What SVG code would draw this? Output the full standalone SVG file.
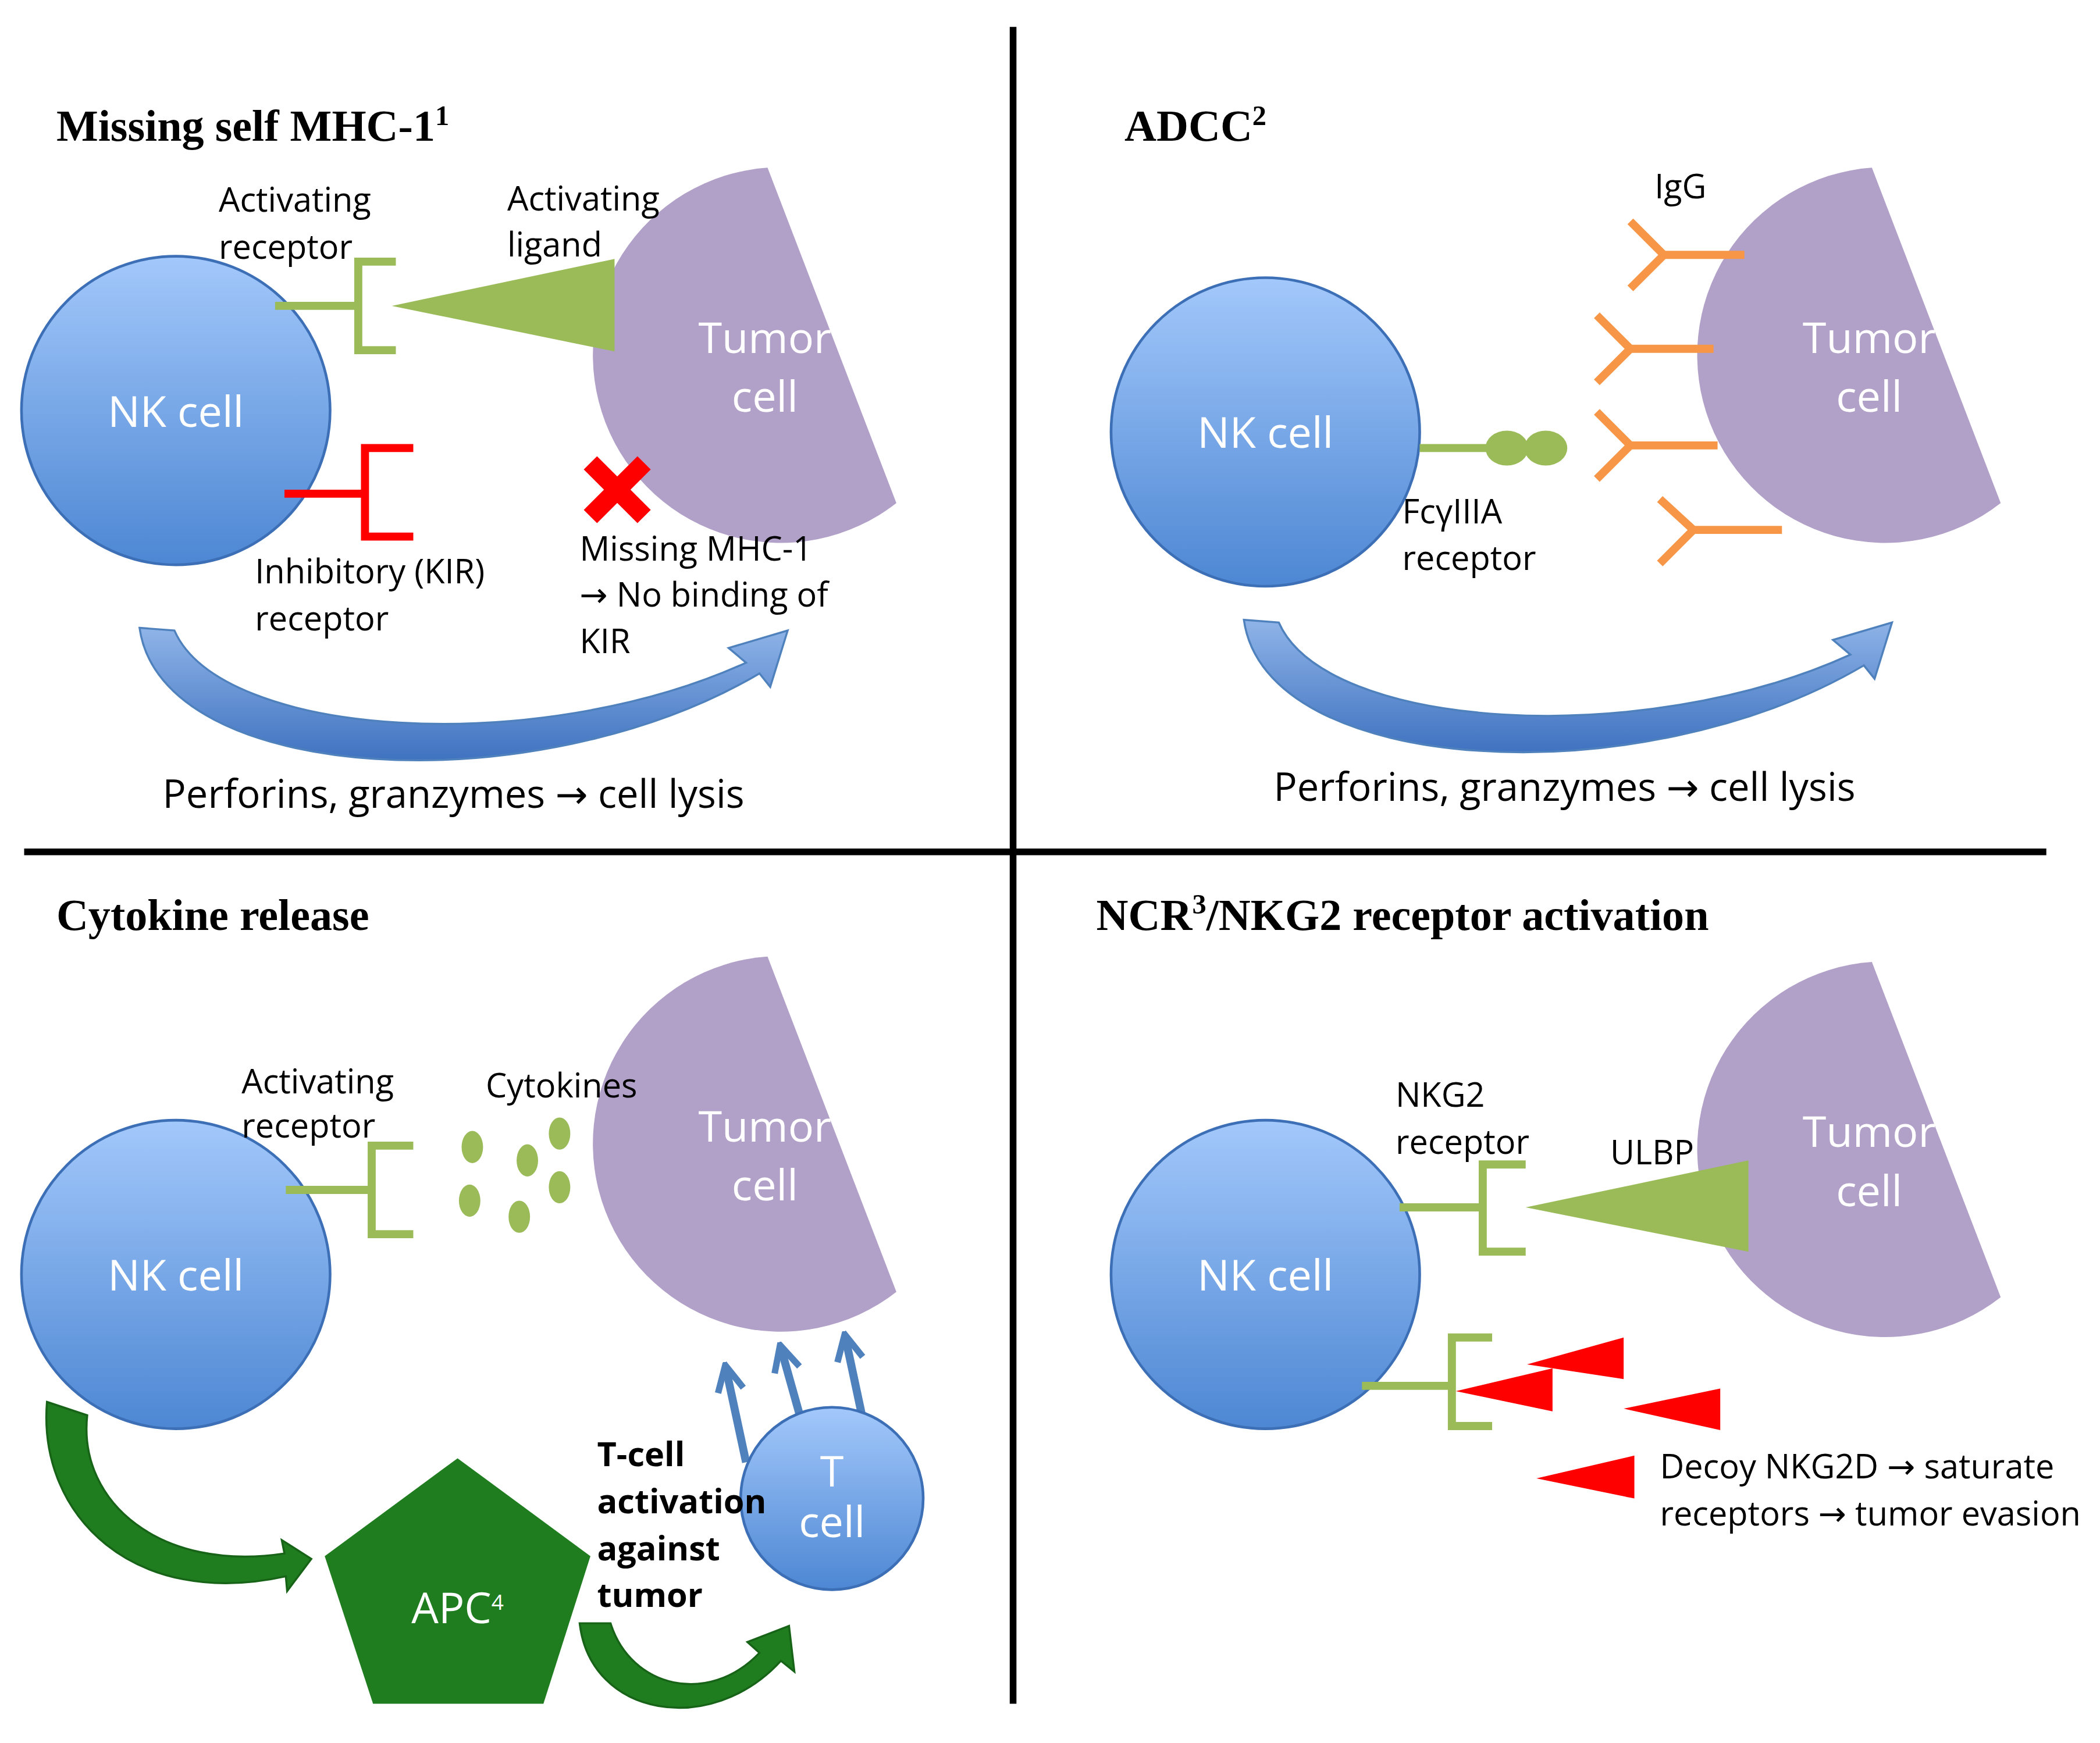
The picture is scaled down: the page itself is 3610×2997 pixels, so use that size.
<svg xmlns="http://www.w3.org/2000/svg" width="3610" height="2997" viewBox="0 0 3610 2997">
<defs>
<linearGradient id="nk" x1="0" y1="0" x2="0" y2="1"><stop offset="0" stop-color="#a3c8fb"/><stop offset="1" stop-color="#4d87d3"/></linearGradient>
<linearGradient id="arr" x1="0" y1="0" x2="0" y2="1"><stop offset="0" stop-color="#8fb4e8"/><stop offset="1" stop-color="#3f72c0"/></linearGradient>
<marker id="ah" viewBox="0 0 10 10" refX="8" refY="5" markerWidth="4" markerHeight="4" orient="auto"><path d="M1,1 L9,5 L1,9" fill="none" stroke="#4f81bd" stroke-width="2"/></marker>
<style>
.nk{fill:url(#nk);stroke:#3c6fb5;stroke-width:2}
.tu{fill:#b1a0c7}
.ct{font-family:"Open Sans","DejaVu Sans",sans-serif;font-size:32px;fill:#fff;text-anchor:middle}
.lb{font-family:"Open Sans","DejaVu Sans",sans-serif;font-size:25px;fill:#000}
.ti{font-family:"Liberation Serif",serif;font-size:33px;font-weight:bold;fill:#000}
.gr{fill:none;stroke:#9bbb59;stroke-width:6}
.rd{fill:none;stroke:#ff0000;stroke-width:6}
.og{fill:none;stroke:#f79646;stroke-width:6}
.ba{fill:url(#arr);stroke:#4f81bd;stroke-width:1.5}
.ga{fill:#1f7d1f;stroke:#176317;stroke-width:1.5}
.bl{stroke:#4f81bd;stroke-width:6;fill:none;marker-end:url(#ah)}
.pf{font-family:"Open Sans","DejaVu Sans",sans-serif;font-size:29px;fill:#000;text-anchor:middle}
</style>
</defs>
<g transform="scale(2.3067)">
<g id="dividers"><line x1="755" y1="20" x2="755" y2="1270" stroke="#000" stroke-width="5"/><line x1="18" y1="635" x2="1525" y2="635" stroke="#000" stroke-width="5"/></g>

<g id="q1">
<text class="ti" x="42" y="105">Missing self MHC-1<tspan font-size="21" dy="-12">1</tspan></text>
<g id="q1-tumor"><path class="tu" d="M572,125 L668,375 A140,140 0 1 1 572,125 Z"/><text class="ct" x="570" y="263">Tumor</text><text class="ct" x="570" y="307">cell</text></g>
<g id="q1-nk"><circle class="nk" cx="131" cy="306" r="115"/><text class="ct" x="131" y="318">NK cell</text></g>
<g id="q1-actrec"><path class="gr" d="M205,228 H267 M295,195 H267 V261 H295"/></g>
<polygon id="q1-ligand" points="292,228 458,193 458,262" fill="#9bbb59"/>
<g id="q1-kir"><path class="rd" d="M212,368 H272 M308,334 H272 V400 H308"/></g>
<g id="q1-x"><path d="M440,345 L480,385 M480,345 L440,385" stroke="#ff0000" stroke-width="14"/></g>
<text class="lb" x="163" y="158">Activating</text><text class="lb" x="163" y="193">receptor</text>
<text class="lb" x="378" y="157">Activating</text><text class="lb" x="378" y="191">ligand</text>
<text class="lb" x="190" y="435">Inhibitory (KIR)</text><text class="lb" x="190" y="470">receptor</text>
<text class="lb" x="432" y="418">Missing MHC-1</text><text class="lb" x="432" y="452">→ No binding of</text><text class="lb" x="432" y="487">KIR</text>
<path id="q1-arrow" class="ba" d="M104,468 L130,470 C165,550 400,565 556,494 L543,483 L587,470 L574,512 L566,502 C400,600 120,585 104,468 Z"/>
<text class="pf" x="338" y="602">Perforins, granzymes → cell lysis</text>
</g>

<g id="q2">
<text class="ti" x="838" y="105">ADCC<tspan font-size="21" dy="-12">2</tspan></text>
<g id="q2-tumor"><path class="tu" d="M1395,125 L1491,375 A140,140 0 1 1 1395,125 Z"/><text class="ct" x="1393" y="263">Tumor</text><text class="ct" x="1393" y="307">cell</text></g>
<g id="q2-nk"><circle class="nk" cx="943" cy="322" r="115"/><text class="ct" x="943" y="334">NK cell</text></g>
<g id="q2-fc"><line x1="1058" y1="334" x2="1120" y2="334" stroke="#9bbb59" stroke-width="6"/><ellipse cx="1123" cy="334" rx="16" ry="13" fill="#9bbb59"/><ellipse cx="1152" cy="334" rx="16" ry="13" fill="#9bbb59"/></g>
<text class="lb" x="1045" y="390">FcγIIIA</text><text class="lb" x="1045" y="425">receptor</text>
<g id="q2-igg"><path class="og" d="M1300,190 H1240 L1215,165 M1240,190 L1215,215 M1277,260 H1215 L1190,235 M1215,260 L1190,285 M1280,332 H1215 L1190,307 M1215,332 L1190,357 M1328,395 H1262 L1237,372 M1262,395 L1237,420"/></g>
<text class="lb" x="1233" y="148">IgG</text>
<path id="q2-arrow" class="ba" d="M927,462 L953,464 C988,544 1223,559 1379,488 L1366,477 L1410,464 L1397,506 L1389,496 C1223,594 943,579 927,462 Z"/>
<text class="pf" x="1166" y="597">Perforins, granzymes → cell lysis</text>
</g>

<g id="q3">
<text class="ti" x="42" y="693">Cytokine release</text>
<g id="q3-tumor"><path class="tu" d="M572,713 L668,963 A140,140 0 1 1 572,713 Z"/><text class="ct" x="570" y="851">Tumor</text><text class="ct" x="570" y="895">cell</text></g>
<g id="q3-nk"><circle class="nk" cx="131" cy="950" r="115"/><text class="ct" x="131" y="962">NK cell</text></g>
<g id="q3-rec"><path class="gr" d="M213,887 H277 M308,854 H277 V920 H308"/></g>
<text class="lb" x="180" y="815">Activating</text><text class="lb" x="180" y="848">receptor</text>
<g id="q3-cyto" fill="#9bbb59"><ellipse cx="352" cy="855" rx="8" ry="12"/><ellipse cx="393" cy="865" rx="8" ry="12"/><ellipse cx="417" cy="845" rx="8" ry="12"/><ellipse cx="350" cy="895" rx="8" ry="12"/><ellipse cx="387" cy="907" rx="8" ry="12"/><ellipse cx="417" cy="885" rx="8" ry="12"/></g>
<text class="lb" x="362" y="818">Cytokines</text>
<g id="q3-tarrows"><line class="bl" x1="556" y1="1090" x2="541" y2="1020"/><line class="bl" x1="598" y1="1062" x2="582" y2="1005"/><line class="bl" x1="643" y1="1058" x2="630" y2="997"/></g>
<g id="q3-tcell"><circle class="nk" cx="620" cy="1117" r="68"/><text class="ct" x="620" y="1108" font-size="28">T</text><text class="ct" x="620" y="1146" font-size="28">cell</text></g>
<g id="q3-apc"><polygon points="341,1087 440,1160 405,1270 278,1270 242,1160" fill="#1f7d1f"/><text class="ct" x="341" y="1210" font-size="26">APC<tspan font-size="16" dy="-10">4</tspan></text></g>
<path id="q3-arrow1" class="ga" d="M35,1045 L65,1055 C58,1120 120,1172 212,1158 L210,1148 L232,1162 L214,1186 L213,1175 C100,1200 28,1130 35,1045 Z"/>
<path id="q3-arrow2" class="ga" d="M432,1210 L455,1210 C470,1258 528,1272 566,1232 L557,1224 L588,1212 L592,1246 L582,1238 C530,1295 440,1280 432,1210 Z"/>
<text class="lb" x="445" y="1093" font-weight="bold" font-size="22">T-cell</text><text class="lb" x="445" y="1128" font-weight="bold" font-size="22">activation</text><text class="lb" x="445" y="1163" font-weight="bold" font-size="22">against</text><text class="lb" x="445" y="1198" font-weight="bold" font-size="22">tumor</text>
</g>

<g id="q4">
<text class="ti" x="817" y="693">NCR<tspan font-size="21" dy="-12">3</tspan><tspan dy="12">/NKG2 receptor activation</tspan></text>
<g id="q4-tumor"><path class="tu" d="M1395,717 L1491,967 A140,140 0 1 1 1395,717 Z"/><text class="ct" x="1393" y="855">Tumor</text><text class="ct" x="1393" y="899">cell</text></g>
<g id="q4-nk"><circle class="nk" cx="943" cy="950" r="115"/><text class="ct" x="943" y="962">NK cell</text></g>
<g id="q4-rec"><path class="gr" d="M1043,900 H1105 M1137,868 H1105 V933 H1137"/></g>
<polygon id="q4-ulbp" points="1137,900 1303,865 1303,933" fill="#9bbb59"/>
<text class="lb" x="1040" y="825">NKG2</text><text class="lb" x="1040" y="860">receptor</text><text class="lb" x="1200" y="868">ULBP</text>
<g id="q4-rec2"><path class="gr" d="M1015,1033 H1082 M1112,997 H1082 V1063 H1112"/></g>
<g id="q4-decoy" fill="#ff0000"><polygon points="1138,1017 1210,997 1210,1028"/><polygon points="1085,1037 1157,1020 1157,1052"/><polygon points="1210,1050 1282,1035 1282,1066"/><polygon points="1145,1102 1218,1085 1218,1117"/></g>
<text class="lb" x="1237" y="1102">Decoy NKG2D → saturate</text><text class="lb" x="1237" y="1137">receptors → tumor evasion</text>
</g>
</g>
</svg>
